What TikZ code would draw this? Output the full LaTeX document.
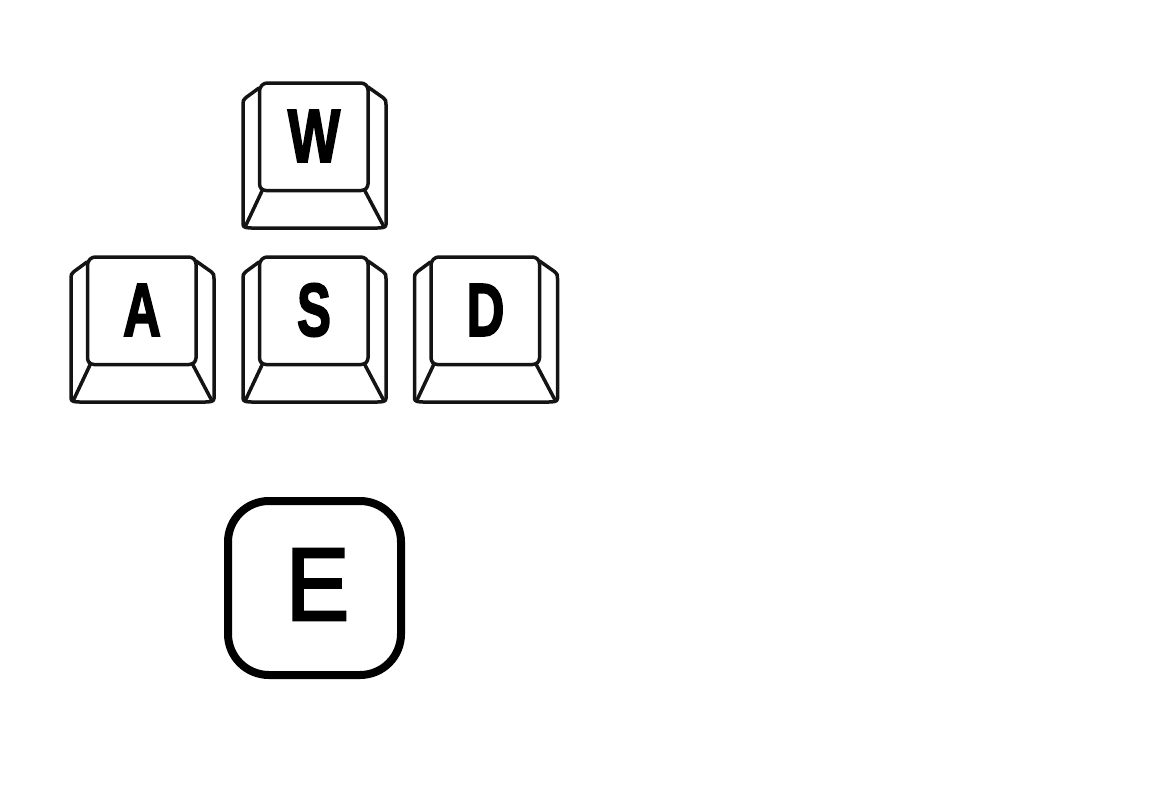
\documentclass[tikz,border=0pt]{standalone}
\usepackage{fontspec}
\setmainfont{Liberation Sans}
\newfontfamily\capfont[BoldFont={Liberation Sans Bold},BoldFeatures={FakeBold=2.6}]{Liberation Sans}
\newfontfamily\efont[FakeBold=3]{Liberation Sans}
\tikzset{
  keyline/.style={draw=black!92,line width=3.5pt,line join=round,line cap=round},
  keyletter/.style={inner sep=0pt,outer sep=0pt,font=\capfont\bfseries\fontsize{75}{75}\selectfont,text=black},
  bigkey/.style={draw=black,line width=8pt,rounded corners=41pt,minimum width=173pt,minimum height=174pt,inner sep=0pt},
}
\newcommand{\keycap}[5]{% x, y, name, letter, xscale
  \begin{scope}[shift={(#1,#2)}]
    \draw[keyline,rounded corners=3pt] (21,1) -- (121,1) -- (125,5) -- (125,105) -- (121,108.5) -- (20,108.5) -- (16.5,105) -- (16.5,6) -- cycle;
    \draw[keyline,rounded corners=2.5pt] (16,6) -- (1,17) -- (0,20) -- (0,139) -- (0,145) -- (6,146) -- (137,146) -- (143,145) -- (143,20) -- (142,17) -- (125,5);
    \draw[keyline] (19,109) -- (3,143);
    \draw[keyline] (122,109) -- (140,143);
    \node[keyletter,xscale=#5] (#3) at (71,54) {#4};
  \end{scope}
}
\begin{document}
\begin{tikzpicture}[x=1pt,y=-1pt]
  \useasboundingbox (0,0) rectangle (1176,793);
  \keycap{243}{82}{keyW}{W}{0.74}
  \keycap{71}{256}{keyA}{A}{0.7}
  \keycap{243}{256}{keyS}{S}{0.68}
  \keycap{414.5}{256}{keyD}{D}{0.7}
  \node[bigkey] (boxE) at (314.5,588) {};
  \node[inner sep=0pt,font=\efont\fontsize{103}{103}\selectfont,xscale=0.92] (keyE) at (317.5,584.5) {E};
\end{tikzpicture}
\end{document}
